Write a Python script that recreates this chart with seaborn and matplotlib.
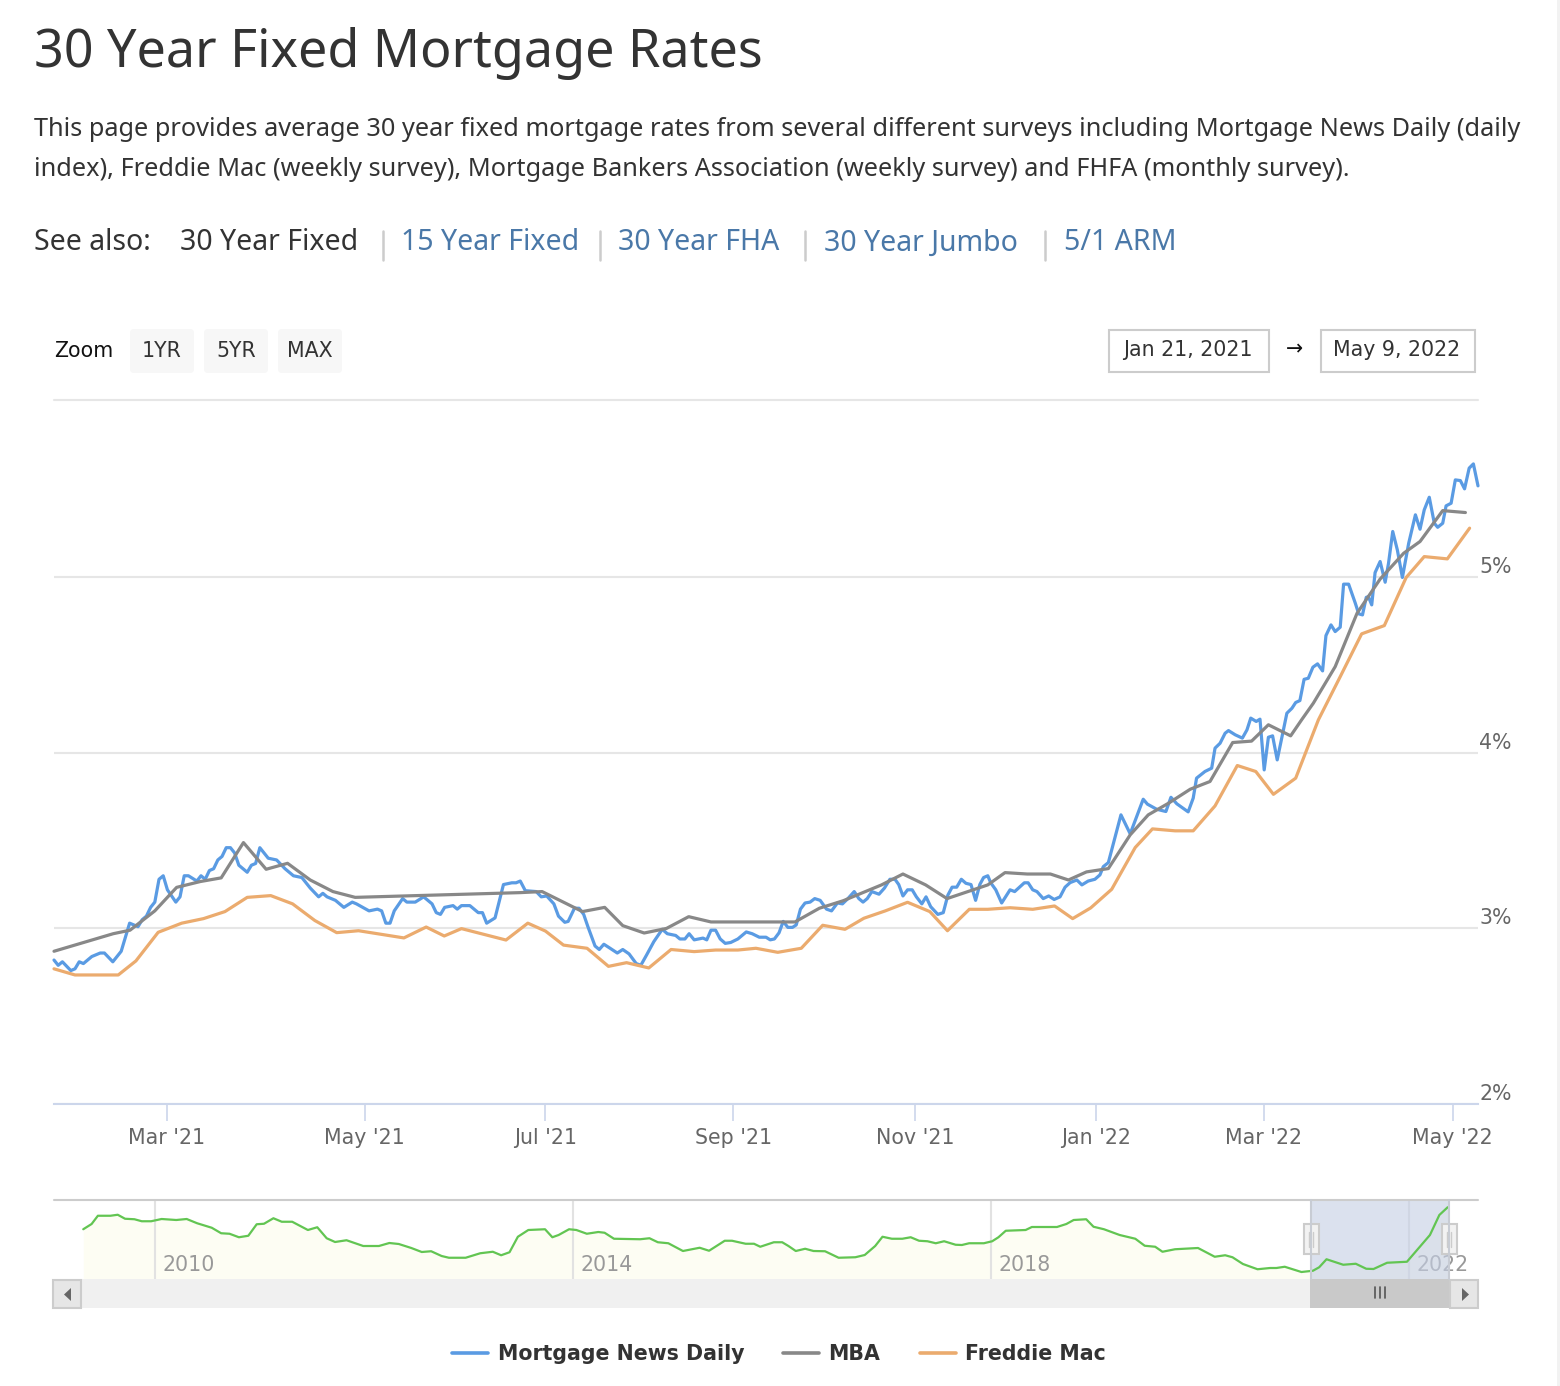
import matplotlib
matplotlib.use('Agg')
import matplotlib.pyplot as plt
import pandas as pd
import seaborn as sns
from matplotlib.lines import Line2D
from matplotlib.patches import FancyBboxPatch, Polygon, Rectangle

# Mortgage News Daily, x is trading session since Jan 21 2021
mnd_session = [0, 1, 2, 4, 5, 6, 7, 8, 9, 11, 12, 14, 16, 18, 20, 21, 22, 23, 24, 25, 26, 27, 29, 30, 31, 32,
               34, 35, 36, 37, 38, 39, 40, 41, 42, 43, 44, 46, 47, 48, 49, 51, 53, 55, 57, 59, 61, 63, 64, 65,
               67, 69, 71, 72, 75, 77, 78, 79, 80, 81, 83, 84, 86, 88, 90, 91, 92, 93, 95, 96, 97, 99, 101, 102,
               103, 105, 107, 109, 110, 111, 112.2, 114.8, 116, 117.3, 119, 120.1, 121.6, 122.4, 123.9, 125,
               126.1, 127.1, 128.8, 129.8, 130.9, 132.2, 134.1, 135.4, 136.9, 138.6, 139.7, 141.1, 142.8, 144.8,
               146, 148, 149, 150.2, 151.2, 152.4, 153.5, 154.5, 155.4, 156.4, 157.5, 158.6, 159.8, 161.1, 162.8,
               164.8, 166.2, 167.9, 169.5, 170.5, 171.5, 172.6, 173.6, 174.7, 175.8, 176.7, 177.7, 178.8, 180,
               181.1, 182.4, 183.9, 185.1, 186.5, 187.7, 189, 190.5, 191.6, 192.6, 193.6, 194.7, 196.4, 197.7,
               199, 200.2, 201.1, 202.1, 203.2, 204.3, 205.3, 206.6, 207.6, 208.7, 210.4, 211.7, 212.8, 213.8,
               214.9, 216, 217.1, 218.3, 219.4, 220.4, 221.3, 222.3, 223, 224.2, 225.6, 227.6, 228.7, 231, 231.9,
               233, 234, 235.5, 236.8, 238.1, 239.5, 240.7, 241.9, 243.5, 244.7, 246.2, 247.8, 249, 249.8, 251,
               254, 256.2, 259.3, 260.3, 262.5, 264.7, 265.9, 267.3, 270, 271.2, 272, 274, 275.6, 276.4, 277.6,
               278.8, 279.6, 281.2, 282.9, 284, 284.9, 286.2, 287.1, 288.1, 289.1, 290.1, 291.2, 293.5, 294.7,
               295.6, 296.6, 297.6, 298.6, 299.7, 300.8, 302, 302.8, 304, 305, 306.2, 307, 308.2, 309.8, 310.6,
               311.5, 312.4, 312.9, 313.7, 314.5, 315.7, 316.9, 317.7, 318.7, 319.8, 321, 322.5, 324.1, 325.2,
               326.2, 327.4, 328.6, 329.4, 330.6, 331.4, 332.6, 333.6, 334.8, 335.8, 336.9, 337.9, 339]
mnd_rate = [2.82, 2.79, 2.81, 2.76, 2.77, 2.81, 2.80, 2.82, 2.84, 2.86, 2.86, 2.81, 2.87, 3.03, 3.01, 3.05, 3.07,
            3.12, 3.15, 3.28, 3.30, 3.22, 3.15, 3.18, 3.30, 3.30, 3.27, 3.30, 3.28, 3.33, 3.34, 3.39, 3.41, 3.46,
            3.46, 3.43, 3.36, 3.32, 3.36, 3.37, 3.46, 3.40, 3.39, 3.34, 3.30, 3.29, 3.23, 3.18, 3.20, 3.18, 3.16,
            3.12, 3.15, 3.14, 3.10, 3.11, 3.10, 3.03, 3.03, 3.10, 3.17, 3.15, 3.15, 3.18, 3.14, 3.09, 3.08, 3.12,
            3.13, 3.11, 3.13, 3.13, 3.09, 3.09, 3.03, 3.06, 3.25, 3.26, 3.26, 3.27, 3.215, 3.21, 3.18, 3.185, 3.14,
            3.07, 3.035, 3.04, 3.115, 3.115, 3.08, 3.01, 2.90, 2.88, 2.91, 2.89, 2.86, 2.88, 2.855, 2.80, 2.79,
            2.85, 2.925, 2.995, 2.97, 2.96, 2.94, 2.94, 2.97, 2.935, 2.94, 2.945, 2.935, 2.99, 2.99, 2.94, 2.915,
            2.92, 2.94, 2.98, 2.97, 2.95, 2.95, 2.935, 2.94, 2.975, 3.04, 3.006, 3.006, 3.02, 3.11, 3.145, 3.15,
            3.17, 3.16, 3.11, 3.10, 3.145, 3.14, 3.17, 3.21, 3.17, 3.15, 3.17, 3.21, 3.195, 3.23, 3.28, 3.28, 3.25,
            3.185, 3.22, 3.22, 3.18, 3.14, 3.18, 3.124, 3.08, 3.09, 3.19, 3.235, 3.235, 3.28, 3.257, 3.25, 3.16,
            3.25, 3.29, 3.30, 3.26, 3.22, 3.145, 3.22, 3.21, 3.26, 3.26, 3.22, 3.21, 3.17, 3.185, 3.165, 3.18,
            3.235, 3.261, 3.276, 3.248, 3.27, 3.28, 3.305, 3.352, 3.375, 3.647, 3.539, 3.736, 3.708, 3.679, 3.666,
            3.747, 3.71, 3.664, 3.742, 3.856, 3.894, 3.913, 4.027, 4.055, 4.112, 4.127, 4.103, 4.084, 4.131, 4.198,
            4.179, 4.192, 3.903, 4.089, 4.097, 3.96, 4.226, 4.254, 4.287, 4.298, 4.419, 4.425, 4.488, 4.507, 4.467,
            4.668, 4.729, 4.691, 4.716, 4.961, 4.961, 4.852, 4.792, 4.786, 4.886, 4.89, 4.843, 5.027, 5.09, 4.972,
            5.08, 5.261, 5.156, 4.999, 5.194, 5.356, 5.274, 5.384, 5.456, 5.308, 5.285, 5.308, 5.407, 5.422, 5.555,
            5.551, 5.504, 5.622, 5.646, 5.521]

mba_session = [0, 14.1, 18.1, 24, 29.2, 34.8, 39.8, 45.1, 50.5, 55.6, 61, 66.4, 71.7, 111, 116.2, 125.8, 131.1,
               135.4, 140.5, 145.8, 151.1, 156.4, 176.4, 182.2, 187.9, 197, 202.1, 207.5, 212.6, 222.3, 226.4,
               231.7, 237.2, 241.5, 245.8, 251, 256.2, 260.5, 265.3, 270.5, 275.2, 280.6, 285.1, 289.1, 294.4,
               297, 299.8, 305, 310.2, 315.7, 321.3, 325.2, 330.6, 336]
mba_rate = [2.87, 2.97, 2.99, 3.10, 3.234, 3.267, 3.288, 3.489, 3.337, 3.371, 3.276, 3.21, 3.177, 3.204, 3.21,
            3.096, 3.12, 3.016, 2.974, 3.0, 3.067, 3.037, 3.037, 3.115, 3.158, 3.248, 3.31, 3.248, 3.17, 3.248,
            3.318, 3.31, 3.31, 3.276, 3.322, 3.341, 3.533, 3.647, 3.713, 3.793, 3.837, 4.059, 4.067, 4.16, 4.097,
            4.188, 4.283, 4.491, 4.795, 4.99, 5.137, 5.204, 5.38, 5.369]

freddie_session = [0, 5, 15.3, 19.5, 24.8, 30.4, 35.6, 40.7, 46, 51.6, 56.8, 62.1, 67.3, 72.5, 83.3, 88.6, 92.9,
                   97, 107.6, 112.8, 117, 121.3, 126.9, 132, 136.3, 141.6, 146.9, 152.4, 157.5, 162.8, 167.1,
                   172.3, 177.9, 183, 188.3, 192.8, 197.9, 203.2, 208.5, 212.7, 217.9, 222.3, 227.6, 233, 238.2,
                   242.5, 246.8, 251.8, 257.4, 261.5, 266.9, 271.2, 276.4, 281.7, 286.1, 290.3, 295.6, 301, 306.2,
                   311.3, 316.7, 321.9, 326.2, 331.7, 337]
freddie_rate = [2.77, 2.735, 2.735, 2.815, 2.978, 3.03, 3.056, 3.096, 3.177, 3.187, 3.14, 3.045, 2.976, 2.987,
                2.946, 3.008, 2.957, 2.999, 2.934, 3.03, 2.985, 2.905, 2.887, 2.784, 2.805, 2.775, 2.88, 2.868,
                2.877, 2.877, 2.887, 2.864, 2.887, 3.018, 2.995, 3.058, 3.10, 3.149, 3.096, 2.987, 3.109, 3.109,
                3.118, 3.109, 3.128, 3.056, 3.117, 3.223, 3.461, 3.567, 3.556, 3.556, 3.698, 3.928, 3.894, 3.764,
                3.856, 4.188, 4.434, 4.678, 4.725, 4.999, 5.118, 5.105, 5.28]

# long history shown in the navigator
nav_year = [2009.31, 2009.39, 2009.45, 2009.57, 2009.64, 2009.71, 2009.80, 2009.87, 2009.96, 2010.06, 2010.20,
            2010.30, 2010.40, 2010.54, 2010.63, 2010.71, 2010.80, 2010.89, 2010.97, 2011.04, 2011.13, 2011.21,
            2011.31, 2011.46, 2011.55, 2011.64, 2011.72, 2011.83, 2011.99, 2012.14, 2012.24, 2012.33, 2012.45,
            2012.55, 2012.64, 2012.74, 2012.81, 2012.97, 2013.11, 2013.23, 2013.31, 2013.39, 2013.47, 2013.57,
            2013.73, 2013.80, 2013.86, 2013.96, 2014.03, 2014.13, 2014.24, 2014.30, 2014.39, 2014.64, 2014.73,
            2014.81, 2014.91, 2015.05, 2015.21, 2015.30, 2015.45, 2015.52, 2015.65, 2015.73, 2015.79, 2015.92,
            2016.00, 2016.06, 2016.13, 2016.22, 2016.30, 2016.41, 2016.54, 2016.70, 2016.79, 2016.89, 2016.96,
            2017.05, 2017.15, 2017.23, 2017.31, 2017.39, 2017.47, 2017.55, 2017.66, 2017.72, 2017.79, 2017.93,
            2018.01, 2018.07, 2018.14, 2018.33, 2018.39, 2018.63, 2018.72, 2018.79, 2018.91, 2018.98, 2019.08,
            2019.23, 2019.38, 2019.47, 2019.57, 2019.64, 2019.76, 2019.98, 2020.14, 2020.24, 2020.31, 2020.41,
            2020.55, 2020.67, 2020.73, 2020.81, 2020.97, 2021.08, 2021.14, 2021.21, 2021.37, 2021.49, 2021.59,
            2021.66, 2021.79, 2021.98, 2022.20, 2022.29, 2022.37]
nav_rate = [4.41, 4.62, 4.95, 4.95, 4.99, 4.83, 4.81, 4.73, 4.73, 4.82, 4.78, 4.82, 4.65, 4.47, 4.25, 4.23, 4.09,
            4.15, 4.61, 4.63, 4.85, 4.71, 4.71, 4.38, 4.49, 4.05, 3.90, 3.97, 3.74, 3.74, 3.86, 3.82, 3.66, 3.50,
            3.53, 3.34, 3.27, 3.27, 3.45, 3.51, 3.37, 3.49, 4.11, 4.38, 4.41, 4.09, 4.18, 4.41, 4.38, 4.23, 4.30,
            4.27, 4.03, 4.01, 4.05, 3.89, 3.85, 3.54, 3.67, 3.55, 3.95, 3.95, 3.83, 3.83, 3.71, 3.89, 3.89, 3.74,
            3.54, 3.63, 3.54, 3.53, 3.27, 3.29, 3.38, 3.74, 4.11, 4.03, 4.03, 4.09, 3.95, 3.93, 3.85, 3.93, 3.79,
            3.78, 3.85, 3.85, 3.93, 4.09, 4.35, 4.38, 4.50, 4.50, 4.62, 4.78, 4.81, 4.51, 4.41, 4.18, 4.03, 3.75,
            3.71, 3.51, 3.61, 3.66, 3.31, 3.37, 3.29, 3.02, 2.81, 2.86, 2.86, 2.91, 2.70, 2.75, 2.89, 3.21, 2.99,
            3.03, 2.83, 2.82, 3.07, 3.11, 4.18, 4.98, 5.29]

tick_session = [26.9, 74, 117, 161.7, 205, 248, 288, 333]
tick_labels = ["Mar '21", "May '21", "Jul '21", "Sep '21", "Nov '21", "Jan '22", "Mar '22", "May '22"]
rate_ticks = [2, 3, 4, 5]
nav_ticks = [2010, 2014, 2018, 2022]
survey_names = ['Mortgage News Daily', 'MBA', 'Freddie Mac']
survey_colors = ['#5A9BE3', '#888888', '#EBAB6E']

W, H = 1560, 1386
HEAD = 'Noto Sans'

sns.set_theme(style='white')
plt.rcParams['font.family'] = ['DejaVu Sans']

rates = pd.concat([
    pd.DataFrame({'session': mnd_session, 'rate': mnd_rate, 'survey': survey_names[0]}),
    pd.DataFrame({'session': mba_session, 'rate': mba_rate, 'survey': survey_names[1]}),
    pd.DataFrame({'session': freddie_session, 'rate': freddie_rate, 'survey': survey_names[2]}),
])
history = pd.DataFrame({'year': nav_year, 'rate': nav_rate})


def box(left, top, right, bottom):
    # axes rectangle from pixel edges
    return [left / W, 1 - bottom / H, (right - left) / W, (bottom - top) / H]


fig = plt.figure(figsize=(W / 100, H / 100), dpi=100, facecolor='white')

# page furniture lives on a full figure axes in pixel units
page = fig.add_axes([0, 0, 1, 1], zorder=0)
page.set_xlim(0, W)
page.set_ylim(H, 0)
page.axis('off')

page.text(34, 54, '30 Year Fixed Mortgage Rates', family=HEAD, fontsize=37.5, color='#333333', va='center', weight=500)
page.text(34, 130, 'This page provides average 30 year fixed mortgage rates from several different surveys including Mortgage News Daily (daily',
          family=HEAD, fontsize=18.2, color='#333333', va='center')
page.text(34, 170, 'index), Freddie Mac (weekly survey), Mortgage Bankers Association (weekly survey) and FHFA (monthly survey).',
          family=HEAD, fontsize=18.2, color='#333333', va='center')
page.text(34, 243, 'See also:', family=HEAD, fontsize=20.5, weight='bold', color='#333333', va='center')
page.text(180, 243, '30 Year Fixed', family=HEAD, fontsize=20.5, color='#333333', va='center')
for x, label in [(401, '15 Year Fixed'), (618, '30 Year FHA'), (824, '30 Year Jumbo'), (1064, '5/1 ARM')]:
    page.text(x, 243, label, family=HEAD, fontsize=20.5, color='#4A78A8', va='center')
for x in [383, 600, 805, 1045]:
    page.plot([x, x], [231, 260], color='#CCCCCC', lw=1.8)

page.text(54, 351, 'Zoom', fontsize=14.8, color='#111111', va='center')
for left, label in [(130, '1YR'), (204, '5YR'), (278, 'MAX')]:
    page.add_patch(FancyBboxPatch((left + 4, 333), 56, 36, boxstyle='round,pad=4,rounding_size=4', fc='#F7F7F7', ec='none'))
    page.text(left + 32, 351, label, fontsize=14.8, color='#333333', va='center', ha='center')
for left, right, label in [(1109, 1269, 'Jan 21, 2021'), (1321, 1475, 'May 9, 2022')]:
    page.add_patch(Rectangle((left, 330), right - left, 42, fc='white', ec='#CCCCCC', lw=1.5))
    page.text((left + right) / 2 - 1, 350, label, fontsize=14.8, color='#333333', va='center', ha='center')
page.text(1294, 349, '→', fontsize=14.8, color='#111111', va='center', ha='center')
page.plot([54, 1478], [400, 400], color='#E6E6E6', lw=1.5)
page.add_patch(Rectangle((1557, 0), 3, H, fc='#F2F2F2', ec='none'))

# main chart
ax = fig.add_axes(box(54, 400, 1478, 1104), zorder=1)
ax.patch.set_alpha(0)
sns.lineplot(data=rates, x='session', y='rate', hue='survey', hue_order=survey_names, palette=survey_colors,
             estimator=None, errorbar=None, linewidth=2.3, legend=False, ax=ax, clip_on=False)
ax.set_xlim(0, 339)
ax.set_ylim(2, 6.01)
ax.set_xticks(tick_session, tick_labels)
ax.set_yticks(rate_ticks, [f'{v}%' for v in rate_ticks])
ax.yaxis.tick_right()
ax.set_xlabel('')
ax.set_ylabel('')
ax.grid(axis='y', color='#E6E6E6', lw=1.5)
ax.set_axisbelow(True)
sns.despine(ax=ax, left=True, right=True, top=True)
ax.spines['bottom'].set_color('#CCD6EB')
ax.spines['bottom'].set_linewidth(1.5)
ax.tick_params(axis='x', length=12, width=1.2, color='#CCD6EB', labelcolor='#666666', labelsize=14.8, pad=5, bottom=True)
ax.tick_params(axis='y', length=0, labelcolor='#666666', labelsize=14.8, pad=1, right=False)
for label in ax.get_yticklabels():
    label.set_verticalalignment('bottom')

# navigator
nav = fig.add_axes(box(54, 1200, 1478, 1279), zorder=1)
nav.patch.set_alpha(0)
nav.fill_between(nav_year, nav_rate, 2.42, color='#FDFDF3', lw=0)
nav.set_xlim(2009.03, 2022.66)
nav.set_ylim(2.42, 5.58)
for year in nav_ticks:
    nav.axvline(year, color='#E2E2E2', lw=1.5, zorder=1)
    nav.text(year + 0.07, 2.42 + 0.16, str(year), fontsize=14.8, color='#999999', va='bottom', ha='left', zorder=1)
nav.axvspan(2021.06, 2022.38, color='#C5CFE5', alpha=0.62, lw=0, zorder=2)
sns.lineplot(data=history, x='year', y='rate', color='#62C552', linewidth=1.6, estimator=None, errorbar=None, ax=nav, zorder=3)
nav.set_xticks([])
nav.set_yticks([])
nav.set_xlabel('')
nav.set_ylabel('')
for side in nav.spines.values():
    side.set_visible(False)

# scrollbar and handles over the navigator
top = fig.add_axes([0, 0, 1, 1], zorder=2)
top.set_xlim(0, W)
top.set_ylim(H, 0)
top.axis('off')
top.plot([54, 1478], [1200, 1200], color='#CCCCCC', lw=1.5)
top.add_patch(Rectangle((53, 1279), 1425, 29, fc='#F0F0F0', ec='none'))
top.add_patch(Rectangle((1310, 1279), 140, 29, fc='#C9C9C9', ec='none'))
for left in [53, 1450]:
    top.add_patch(Rectangle((left, 1280), 28, 28, fc='#E6E6E6', ec='#CCCCCC', lw=1.5))
top.add_patch(Polygon([[71, 1288], [71, 1301], [64, 1294.5]], fc='#666666', ec='none'))
top.add_patch(Polygon([[1462, 1288], [1462, 1301], [1469, 1294.5]], fc='#666666', ec='none'))
for x in [1375, 1380, 1385]:
    top.plot([x, x], [1287, 1298], color='#555555', lw=1.2)
for x in [1311, 1449]:
    top.plot([x, x], [1200, 1279], color='#C8CCD4', lw=1.5)
    top.add_patch(Rectangle((x - 7.5, 1224), 15, 30, fc='#F2F2F2', ec='#CCCCCC', lw=1.5))
    for dx in [-2, 2]:
        top.plot([x + dx, x + dx], [1232, 1247], color='#CCCCCC', lw=1)

# legend in the bottom centre
handles = [Line2D([], [], color=c, lw=2.6) for c in survey_colors]
fig.legend(handles, survey_names, loc='center', bbox_to_anchor=(779 / W, 1 - 1354 / H), ncol=3, frameon=False,
           prop={'size': 14.8, 'weight': 'bold'}, labelcolor='#333333', handlelength=1.75, handletextpad=0.45,
           columnspacing=1.9)

fig.savefig('out.png', dpi=100)
